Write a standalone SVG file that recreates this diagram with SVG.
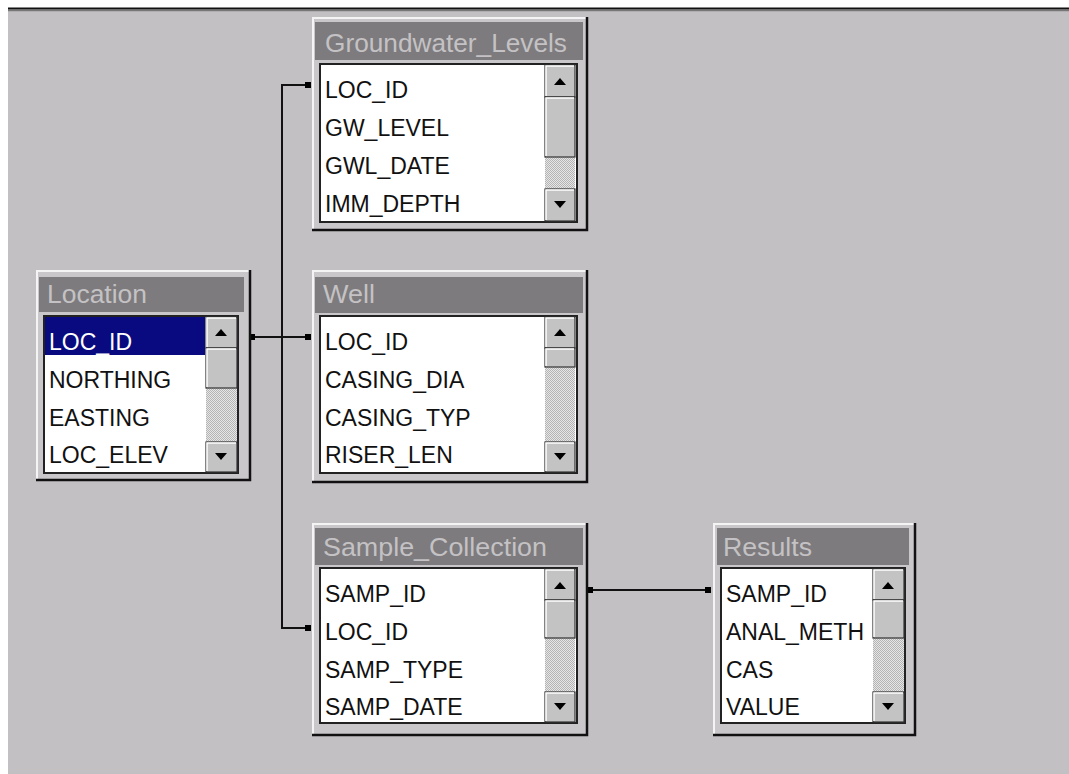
<svg xmlns="http://www.w3.org/2000/svg" width="1069" height="774" viewBox="0 0 1069 774">
<defs>
<pattern id="dither" width="2" height="2" patternUnits="userSpaceOnUse">
<rect width="2" height="2" fill="#e6e6e6"/>
<rect width="1" height="1" fill="#b4b4b4"/>
<rect x="1" y="1" width="1" height="1" fill="#b4b4b4"/>
</pattern>
<marker id="dot" viewBox="0 0 6 6" refX="3" refY="3" markerWidth="6" markerHeight="6" markerUnits="userSpaceOnUse">
<rect width="6" height="6" fill="#000"/>
</marker>
</defs>
<style>
.frame{fill:#cac7ca;stroke:none}
.hi{stroke:#f4f4f4;stroke-width:2;fill:none}
.sh{stroke:#111;stroke-width:2.5;fill:none}
.tbar{fill:#7d7b7d}
.ttl{font-family:"Liberation Sans",Arial,sans-serif;font-size:25px;fill:#c4c2c4}
.list{fill:#fff;stroke:#222;stroke-width:2}
.row{font-family:"Liberation Sans",Arial,sans-serif;font-size:23px;fill:#111}
.sel{fill:#0a0a80}
.selt{font-family:"Liberation Sans",Arial,sans-serif;font-size:23px;fill:#fff}
.btn{fill:#c3c3c3;stroke:#333;stroke-width:1.2}
.btnhi{stroke:#fff;stroke-width:1.5;fill:none}
.track{fill:url(#dither)}
.arr{fill:#000}
.conn{stroke:#111;stroke-width:2;fill:none}
</style>
<rect x="0" y="0" width="1069" height="774" fill="#fff"/>
<rect x="8" y="8" width="1061" height="766" fill="#c3c0c3"/>
<line x1="8" y1="8.5" x2="1069" y2="8.5" stroke="#111" stroke-width="2"/>
<line x1="8" y1="10.5" x2="1069" y2="10.5" stroke="#777" stroke-width="1.5"/>

<g id="connectors">
<polyline class="conn" points="308,85 282,85 282,628 308,628" marker-start="url(#dot)" marker-end="url(#dot)"/>
<line class="conn" x1="252" y1="337" x2="308" y2="337" marker-start="url(#dot)" marker-end="url(#dot)"/>
<line class="conn" x1="590" y1="590" x2="708" y2="590" marker-start="url(#dot)" marker-end="url(#dot)"/>
</g>

<g id="groundwater_levels">
<rect class="frame" x="312" y="17" width="275" height="213"/>
<polyline class="hi" points="313,229 313,18 586,18"/>
<polyline class="sh" points="587,17 587,230 312,230"/>
<rect class="tbar" x="315" y="22" width="268" height="38"/>
<text class="ttl" x="325" y="52" textLength="242" lengthAdjust="spacingAndGlyphs">Groundwater_Levels</text>
<rect class="list" x="320" y="64" width="257" height="158"/>
<text class="row" x="325" y="98">LOC_ID</text>
<text class="row" x="325" y="136">GW_LEVEL</text>
<text class="row" x="325" y="174">GWL_DATE</text>
<text class="row" x="325" y="212">IMM_DEPTH</text>
<rect class="track" x="545" y="65" width="30" height="156"/>
<rect class="btn" x="545" y="65" width="30" height="32"/><polyline class="btnhi" points="546,96 546,66 574,66"/>
<polygon class="arr" points="554,85 566,85 560,78"/>
<rect class="btn" x="545" y="97" width="30" height="60"/><polyline class="btnhi" points="546,156 546,98 574,98"/>
<rect class="btn" x="545" y="189" width="30" height="32"/><polyline class="btnhi" points="546,220 546,190 574,190"/>
<polygon class="arr" points="554,201 566,201 560,208"/>
</g>

<g id="location">
<rect class="frame" x="36" y="270" width="214" height="210"/>
<polyline class="hi" points="37,479 37,271 249,271"/>
<polyline class="sh" points="250,270 250,480 36,480"/>
<rect class="tbar" x="39" y="277" width="205" height="35"/>
<text class="ttl" x="47" y="303" textLength="100" lengthAdjust="spacingAndGlyphs">Location</text>
<rect class="list" x="44" y="316" width="194" height="157"/>
<rect class="sel" x="45" y="317" width="160" height="38"/>
<text class="selt" x="49" y="350">LOC_ID</text>
<text class="row" x="49" y="388">NORTHING</text>
<text class="row" x="49" y="426">EASTING</text>
<text class="row" x="49" y="463">LOC_ELEV</text>
<rect class="track" x="206" y="317" width="31" height="155"/>
<rect class="btn" x="206" y="317" width="31" height="31"/><polyline class="btnhi" points="207,347 207,318 236,318"/>
<polygon class="arr" points="215,336 227,336 221,329"/>
<rect class="btn" x="206" y="348" width="31" height="40"/><polyline class="btnhi" points="207,387 207,349 236,349"/>
<rect class="btn" x="206" y="442" width="31" height="30"/><polyline class="btnhi" points="207,471 207,443 236,443"/>
<polygon class="arr" points="215,453 227,453 221,460"/>
</g>

<g id="well">
<rect class="frame" x="312" y="270" width="275" height="212"/>
<polyline class="hi" points="313,481 313,271 586,271"/>
<polyline class="sh" points="587,270 587,482 312,482"/>
<rect class="tbar" x="315" y="277" width="268" height="36"/>
<text class="ttl" x="323" y="303" textLength="52" lengthAdjust="spacingAndGlyphs">Well</text>
<rect class="list" x="320" y="316" width="257" height="157"/>
<text class="row" x="325" y="350">LOC_ID</text>
<text class="row" x="325" y="388">CASING_DIA</text>
<text class="row" x="325" y="426">CASING_TYP</text>
<text class="row" x="325" y="463">RISER_LEN</text>
<rect class="track" x="545" y="317" width="30" height="155"/>
<rect class="btn" x="545" y="317" width="30" height="31"/><polyline class="btnhi" points="546,347 546,318 574,318"/>
<polygon class="arr" points="554,336 566,336 560,329"/>
<rect class="btn" x="545" y="348" width="30" height="19"/><polyline class="btnhi" points="546,366 546,349 574,349"/>
<rect class="btn" x="545" y="442" width="30" height="30"/><polyline class="btnhi" points="546,471 546,443 574,443"/>
<polygon class="arr" points="554,453 566,453 560,460"/>
</g>

<g id="sample_collection">
<rect class="frame" x="312" y="523" width="275" height="212"/>
<polyline class="hi" points="313,734 313,524 586,524"/>
<polyline class="sh" points="587,523 587,735 312,735"/>
<rect class="tbar" x="315" y="528" width="268" height="37"/>
<text class="ttl" x="323" y="556" textLength="224" lengthAdjust="spacingAndGlyphs">Sample_Collection</text>
<rect class="list" x="320" y="568" width="257" height="155"/>
<text class="row" x="325" y="602">SAMP_ID</text>
<text class="row" x="325" y="640">LOC_ID</text>
<text class="row" x="325" y="678">SAMP_TYPE</text>
<text class="row" x="325" y="715">SAMP_DATE</text>
<rect class="track" x="545" y="569" width="30" height="153"/>
<rect class="btn" x="545" y="569" width="30" height="31"/><polyline class="btnhi" points="546,599 546,570 574,570"/>
<polygon class="arr" points="554,589 566,589 560,582"/>
<rect class="btn" x="545" y="600" width="30" height="38"/><polyline class="btnhi" points="546,637 546,601 574,601"/>
<rect class="btn" x="545" y="692" width="30" height="30"/><polyline class="btnhi" points="546,721 546,693 574,693"/>
<polygon class="arr" points="554,703 566,703 560,710"/>
</g>

<g id="results">
<rect class="frame" x="713" y="523" width="202" height="212"/>
<polyline class="hi" points="714,734 714,524 914,524"/>
<polyline class="sh" points="915,523 915,735 713,735"/>
<rect class="tbar" x="717" y="528" width="192" height="37"/>
<text class="ttl" x="723" y="556" textLength="89" lengthAdjust="spacingAndGlyphs">Results</text>
<rect class="list" x="721" y="568" width="184" height="155"/>
<text class="row" x="726" y="602">SAMP_ID</text>
<text class="row" x="726" y="640">ANAL_METH</text>
<text class="row" x="726" y="678">CAS</text>
<text class="row" x="726" y="715">VALUE</text>
<rect class="track" x="873" y="569" width="31" height="153"/>
<rect class="btn" x="873" y="569" width="31" height="31"/><polyline class="btnhi" points="874,599 874,570 903,570"/>
<polygon class="arr" points="882,589 894,589 888,582"/>
<rect class="btn" x="873" y="600" width="31" height="38"/><polyline class="btnhi" points="874,637 874,601 903,601"/>
<rect class="btn" x="873" y="692" width="31" height="30"/><polyline class="btnhi" points="874,721 874,693 903,693"/>
<polygon class="arr" points="882,703 894,703 888,710"/>
</g>
</svg>
